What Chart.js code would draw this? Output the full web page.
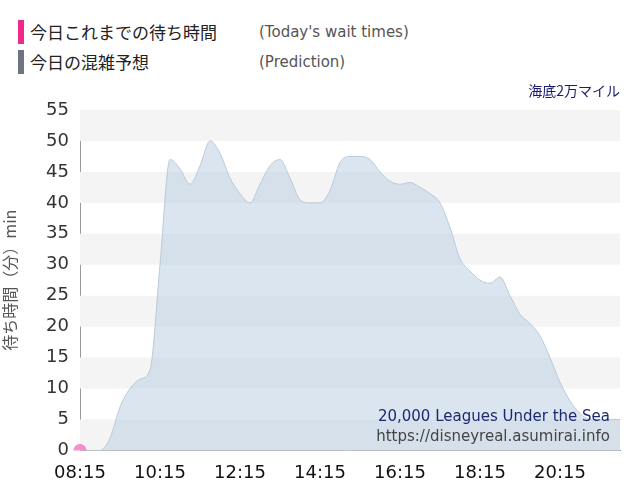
<!DOCTYPE html>
<html><head><meta charset="utf-8">
<script src="https://cdn.jsdelivr.net/npm/chart.js@4"></script>
<style>
body{margin:0;width:640px;height:500px;font-family:"Noto Sans CJK JP","Noto Sans",sans-serif;background:#fff;position:relative;overflow:hidden}
.lg{position:absolute;left:18px;font-size:17px;color:#222;display:flex;align-items:center}
.lg i{display:inline-block;width:6px;height:24px;margin-right:6px}
.lg span{position:absolute;left:241px;font-size:15px;color:#555;white-space:nowrap;font-family:"DejaVu Sans"}
#c{position:absolute;left:0;top:0}
</style></head><body>
<div class="lg" style="top:19px"><i style="background:#f0288c"></i>今日これまでの待ち時間<span>(Today's wait times)</span></div>
<div class="lg" style="top:49px"><i style="background:#6e7480"></i>今日の混雑予想<span>(Prediction)</span></div>
<canvas id="c" width="640" height="500"></canvas>
<script>
const labels=[];for(let m=8*60+15;m<=21*60+45;m+=15){labels.push(String(Math.floor(m/60)).padStart(2,'0')+':'+String(m%60).padStart(2,'0'));}
const prediction=[0,0,0,2,7,10,11.5,13,30,47,45.5,43,46,50,48,44,41.5,40,43,46,47,44,40.5,40,40,42,46.5,47.5,47.5,47,45,43.5,43,43.3,42.5,41.5,40,36,31,29,27.5,27,28,25,22,20.5,18.5,15,11,8,6,5,5,5,5];
const today=[0];
const yTicks=[0,5,10,15,20,25,30,35,40,45,50,55];
const bands={id:'bands',beforeDatasetsDraw(ch){const {ctx,chartArea:a,scales:{y}}=ch;ctx.save();for(let i=0;i<yTicks.length-1;i++){if((yTicks.length-2-i)%2===0){ctx.fillStyle='#f4f4f4';const t=y.getPixelForValue(yTicks[i+1]),b=y.getPixelForValue(yTicks[i]);ctx.fillRect(a.left,t,a.right-a.left,b-t);}}ctx.restore();},
afterDraw(ch){const {ctx,chartArea:a}=ch;ctx.save();ctx.fillStyle='#1a1a6e';ctx.font='14px "Noto Sans CJK JP"';ctx.textAlign='right';ctx.fillText('海底2万マイル',620,96);ctx.font='15px "DejaVu Sans"';ctx.fillStyle='#1a2a6e';ctx.fillText('20,000 Leagues Under the Sea',610,421);ctx.fillStyle='#444';ctx.fillText('https://disneyreal.asumirai.info',610,441);ctx.restore();}};
new Chart(document.getElementById('c'),{type:'line',data:{labels,datasets:[
{data:today,borderColor:'#f0288c',backgroundColor:'#f088c0',pointRadius:6,pointBackgroundColor:'rgba(240,120,190,0.8)',pointBorderColor:'rgba(240,120,190,0.8)',showLine:false,order:0},
{data:prediction,fill:true,backgroundColor:'rgba(190,208,225,0.55)',borderColor:'#b9cadb',borderWidth:1,pointRadius:0,tension:0.4,cubicInterpolationMode:'monotone',order:1}]},
plugins:[bands],
options:{responsive:false,animation:false,layout:{padding:{left:0,right:20,top:110,bottom:12}},
plugins:{legend:{display:false},tooltip:{enabled:false}},
scales:{x:{offset:false,grid:{display:false},border:{color:'#999'},ticks:{autoSkip:false,maxRotation:0,color:'#111',padding:4,font:{size:18,family:'DejaVu Sans'},callback:(v,i)=>i%8===0?labels[i]:''}},
y:{min:0,max:55,afterFit(s){s.width=80;},afterBuildTicks(s){s.ticks=yTicks.map(v=>({value:v}));},grid:{display:false},border:{color:'#999'},ticks:{color:'#333',font:{size:18,family:'DejaVu Sans'}},
title:{display:true,text:'待ち時間（分）min',color:'#555',font:{size:16,family:'Noto Sans CJK JP'},padding:0}}}}});
</script></body></html>
